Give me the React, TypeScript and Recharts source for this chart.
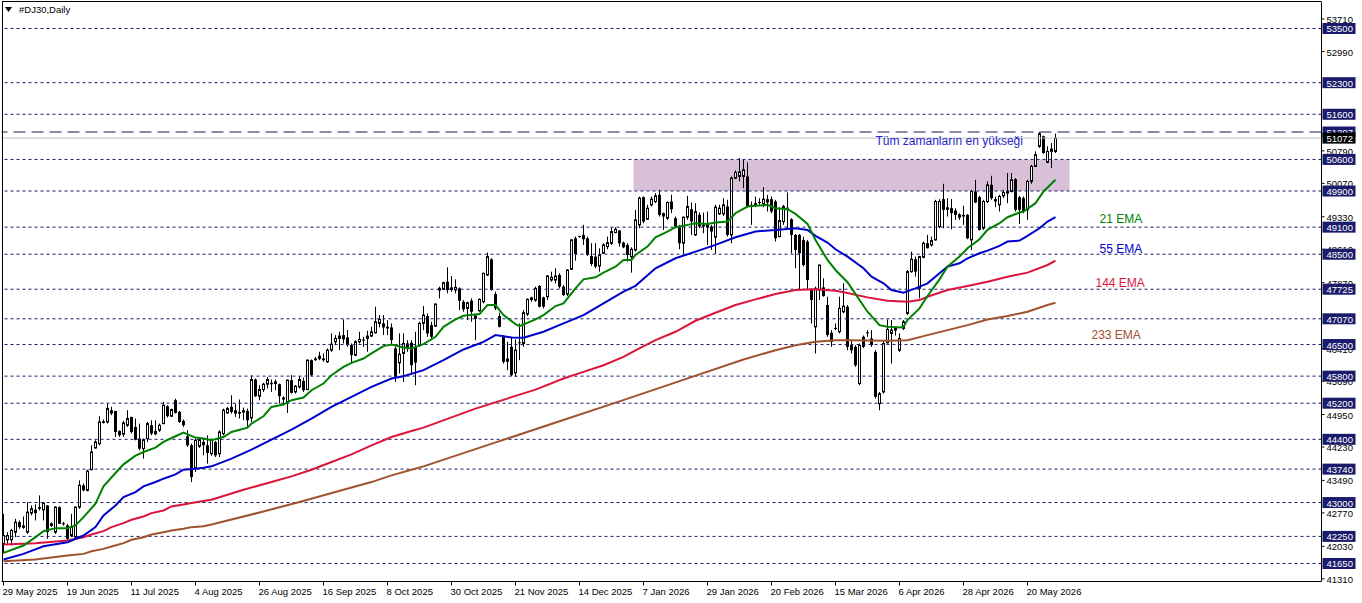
import React from 'react';
import { ComposedChart, Bar, Line, XAxis, YAxis, ReferenceLine, ReferenceArea, ReferenceDot } from 'recharts';

const FONT = 'Liberation Sans, Arial, sans-serif';

const openP = [
42085,42174,42174,42344,42566,42492,42344,42766,42840,42899,42840,42936,42492,42344,42899,42530,42492,42270,42233,42899,
43380,43269,43728,44209,44305,44801,44786,45045,45030,44586,44512,44712,44897,44675,44416,44194,44416,44712,44586,44601,
44749,45134,44912,45267,45008,44808,44468,44268,43772,44246,44342,44268,44083,44341,44082,44526,44985,45118,45044,45007,
45044,45029,44874,45725,45355,45503,45621,45651,45636,45621,45325,45229,45710,45451,45562,45695,45503,46154,46191,46191,
46191,46117,46376,46561,46635,46709,46657,46487,46265,46561,46598,46635,46687,46760,46968,46968,46894,46879,46413,46095,
46302,46524,46539,46450,46487,46968,47130,46930,46908,47707,47722,47892,47766,47707,47744,47448,47300,47470,47078,47248,
47448,48040,48388,47618,47130,46671,46190,46449,45872,46523,46523,47174,47544,47485,47796,47544,47559,47929,47929,48040,
47781,47618,48166,48854,48891,48928,48854,48462,48447,48240,48521,48669,48743,48980,49024,48758,48706,48447,48595,49150,
49764,49276,49594,49668,49816,49409,49298,49668,49298,49098,48743,49320,49498,48928,49372,49150,49098,49113,48876,49394,
49394,49557,48928,50186,50223,50223,50223,49594,49631,49646,49616,49720,49720,49668,48891,49224,49520,49276,48928,48928,
48817,48780,47707,46893,47707,47766,47374,46760,46856,46782,47226,47337,46486,46449,45635,46671,46760,46634,46338,45191,
45450,46538,46745,46819,46375,46856,47189,48114,48388,47744,48432,48743,48706,48817,49113,49720,49542,49520,49468,49320,
49372,49372,48817,49890,49764,49076,49668,50038,49720,49594,49794,49853,49890,50164,49764,49742,49483,50112,50445,50889,
51111,50534,50778,50778];

const highP = [
42750,42344,42418,42640,42603,42692,43010,42936,42958,43158,43010,42940,42560,42914,42914,42570,42529,42751,42914,43491,
43420,43728,44268,44379,44912,44838,45193,45120,45030,44601,44808,45045,44897,44860,44749,44416,44786,44823,44823,44749,
45230,45156,45082,45300,45030,44838,44601,44305,44416,44453,44394,44490,44420,44360,44600,45081,45118,45377,45192,45281,
45103,45081,45821,45747,45599,45651,45784,45725,45725,45636,45355,45725,45821,45599,45799,45769,46169,46169,46228,46339,
46302,46413,46746,46709,46783,47057,46820,46524,46598,46783,46672,46805,46894,47338,47153,47153,47040,46968,46450,46746,
46746,46598,46598,46783,47005,47353,47189,47004,47411,47781,47892,48210,48018,47944,47766,47485,47448,47522,47152,47522,
48092,48536,48410,47670,47204,46708,46560,46671,46612,46967,47263,47522,47559,47781,47818,47559,48040,48114,48188,48077,
47818,48166,48832,48891,48910,49150,48891,48743,48743,48632,48743,48891,49098,49098,49039,48780,48743,48654,49483,49779,
49779,49594,49779,49853,49927,49424,49668,49816,49335,49150,49335,49794,49646,49631,49424,49424,49446,49150,49594,49594,
49742,49705,50223,50356,50630,50593,50534,49668,49779,49742,49986,49816,49779,49705,49542,49594,49868,49298,48950,48950,
48891,48817,47744,47781,48262,47966,47559,46819,46967,47559,47855,47374,46597,46486,46523,46700,46819,46819,46375,45450,
46597,47056,47041,46900,46745,47041,48151,48558,48447,48462,48780,48928,48891,49705,49720,50060,49742,49720,49520,49409,
49572,49387,49927,50149,49794,49705,50112,50238,49779,49816,49927,50297,50297,50186,49794,49779,50149,50482,50778,51207,
51126,50889,50963,51170];

const lowP = [
41870,42085,42048,42233,42418,42418,42307,42714,42603,42825,42603,42196,42460,42307,42529,42490,42174,42233,42196,42862,
43250,43247,43713,44194,44268,44749,44749,44935,44453,44453,44453,44675,44527,44379,44157,43972,44342,44490,44490,44564,
44734,44882,44897,44971,44764,44675,44231,43454,43676,44209,44046,43861,44040,44008,44008,44489,44970,44970,44896,44859,
44822,44674,44785,45340,45266,45451,45525,45451,45488,45192,45155,44985,45414,45414,45525,45451,45488,45799,46139,46154,
46117,46095,46339,46487,46376,46524,46450,46080,46243,46524,46450,46339,46672,46746,46879,46709,46709,46487,45673,45858,
45673,46339,45858,45600,46450,46820,46671,46634,46893,47522,47707,47633,47670,47633,47263,47226,47041,47004,46597,47226,
47411,48018,47692,47263,46878,46079,45931,45798,45783,46153,46449,47130,47448,47448,47322,47300,47485,47892,47855,47744,
47574,47574,48151,48358,48870,48706,48462,48240,48188,48114,48506,48610,48706,48965,48669,48632,48336,48092,48558,49076,
49187,49261,49557,49631,49335,49039,49261,49409,49076,48610,48506,49261,48928,48906,49076,48965,48706,48595,48506,49372,
49350,48891,48743,50164,50112,49964,49542,49150,49542,49572,49542,49446,49409,48780,48876,49150,49039,48521,48188,47722,
48225,47722,46967,46301,47485,47559,46671,46449,46819,46745,47189,46375,46301,46005,45600,46420,46671,46449,45302,45043,
45413,46523,46079,46700,46338,46820,47152,48092,48003,47522,48410,48632,48669,48802,49076,49076,49335,49054,49261,49261,
49150,48832,48595,49631,49024,49039,49631,49705,49542,49446,49742,49631,49868,49446,49172,49409,49261,50060,50430,50852,
50726,50519,50407,50741];

const closeP = [
42270,42270,42381,42566,42455,42440,42788,42862,42766,42862,42988,42344,42529,42899,42529,42510,42196,42455,42899,43380,
43269,43698,44120,44342,44786,44764,45082,44971,44564,44490,44764,44860,44564,44394,44194,44394,44749,44527,44512,44712,
45156,44912,45060,44986,44786,44712,44268,43565,44379,44394,44268,44098,44379,44045,44563,45044,45081,45007,44970,44970,
44992,44822,45725,45355,45503,45621,45725,45621,45673,45355,45281,45710,45429,45577,45725,45488,46154,45821,46154,46243,
46154,46376,46509,46635,46687,46613,46487,46265,46561,46613,46583,46687,46783,47005,47057,46879,46857,46598,45784,46287,
46524,46413,46043,46100,46968,47153,46745,46671,47396,47744,47870,47707,47707,47766,47470,47278,47426,47226,47130,47500,
48077,48447,47707,47300,46893,46116,46116,45820,46375,46538,47204,47500,47485,47744,47337,47337,48018,47988,48018,47781,
47596,48151,48817,48506,48891,48832,48484,48284,48225,48484,48706,48758,49002,49054,48743,48654,48484,48610,49261,49742,
49224,49520,49720,49794,49372,49335,49646,49498,49113,48743,49320,49557,49224,49446,49113,49113,49150,49002,49542,49520,
49594,48928,50186,50312,50327,50371,49557,49557,49572,49631,49720,49646,49446,48854,49246,49557,49498,48928,48595,48521,
48262,47929,47485,47744,48262,47574,46708,46560,46850,47300,47352,46449,46375,46042,46486,46449,46745,46486,45339,45413,
46523,46834,46819,46856,46634,47004,48114,48388,48114,48447,48743,48632,48802,49668,49668,49483,49483,49409,49372,49372,
49335,48854,49890,49646,49039,49668,50038,49742,49668,49779,49868,49890,50149,49483,49483,49446,50112,50445,50704,51170,
50741,50778,50830,51072];

const ema21Pts: [number, number][] = [[0,41885],[5,42048],[8,42233],[10,42366],[13,42433],[16,42433],[18,42492],[20,42677],[23,42973],[25,43358],[28,43654],[30,43846],[33,44039],[35,44120],[38,44216],[40,44342],[43,44468],[45,44549],[48,44438],[50,44416],[52,44379],[55,44452],[57,44563],[61,44659],[62,44748],[65,44911],[67,45118],[70,45170],[72,45266],[75,45325],[77,45488],[80,45636],[82,45821],[85,46006],[87,46095],[90,46191],[92,46302],[95,46465],[97,46502],[100,46435],[102,46413],[105,46509],[108,46671],[110,46893],[113,47056],[115,47137],[119,47174],[121,47374],[123,47374],[125,47152],[128,46952],[129,46908],[133,47056],[135,47152],[138,47352],[140,47411],[143,47744],[145,47944],[148,47988],[150,48092],[153,48225],[155,48373],[157,48373],[158,48484],[161,48669],[163,48876],[166,49002],[168,49098],[171,49150],[173,49187],[176,49172],[178,49202],[181,49224],[183,49409],[186,49557],[188,49572],[191,49594],[193,49520],[196,49498],[198,49394],[201,49172],[203,48817],[206,48373],[208,48151],[211,47880],[214,47485],[216,47226],[219,46930],[221,46893],[224,46878],[225,46893],[226,47041],[229,47300],[231,47574],[234,47944],[236,48225],[239,48447],[241,48632],[244,48832],[246,49039],[249,49187],[251,49320],[254,49424],[255,49446],[258,49631],[260,49890],[263,50149]];

const ema55Pts: [number, number][] = [[0,41737],[5,41863],[10,42033],[16,42122],[20,42270],[23,42455],[25,42714],[28,42936],[30,43121],[33,43232],[35,43358],[38,43454],[40,43528],[43,43624],[45,43728],[48,43750],[50,43772],[52,43802],[57,43971],[62,44171],[67,44393],[72,44615],[77,44859],[82,45118],[87,45340],[92,45562],[97,45747],[100,45799],[105,45932],[110,46153],[115,46390],[120,46560],[123,46708],[127,46656],[130,46649],[135,46782],[140,46967],[145,47152],[150,47411],[155,47670],[158,47800],[163,48188],[168,48410],[173,48558],[178,48706],[183,48876],[188,49002],[193,49039],[198,49076],[201,49039],[203,48906],[206,48758],[208,48610],[211,48447],[215,48188],[217,48003],[220,47855],[222,47707],[225,47648],[228,47744],[231,47855],[234,48077],[236,48225],[239,48299],[241,48410],[244,48521],[246,48580],[249,48684],[251,48780],[254,48802],[256,48906],[259,49076],[261,49224],[263,49320]];

const ema144Pts: [number, number][] = [[0,42070],[8,42100],[16,42159],[20,42233],[22,42292],[25,42366],[27,42455],[30,42544],[32,42618],[35,42692],[37,42766],[40,42825],[42,42914],[45,42958],[47,42988],[50,43032],[52,43062],[60,43283],[67,43453],[72,43579],[77,43727],[82,43897],[87,44067],[92,44267],[97,44452],[102,44585],[105,44659],[118,45080],[133,45502],[140,45746],[145,45894],[150,46042],[155,46227],[158,46370],[163,46597],[168,46782],[173,47026],[178,47204],[183,47374],[188,47500],[193,47618],[198,47707],[203,47722],[208,47692],[211,47640],[216,47544],[221,47470],[226,47448],[229,47485],[231,47559],[236,47707],[241,47796],[246,47892],[251,48003],[256,48092],[261,48262],[263,48358]];

const ema233Pts: [number, number][] = [[0,41700],[8,41737],[16,41826],[20,41863],[22,41922],[25,41974],[27,42026],[30,42100],[32,42174],[35,42233],[37,42292],[40,42344],[42,42381],[45,42418],[47,42455],[50,42477],[52,42514],[64,42780],[74,43010],[85,43283],[92,43453],[97,43601],[102,43727],[105,43801],[124,44360],[139,44800],[154,45240],[169,45690],[185,46168],[193,46375],[198,46486],[203,46560],[208,46597],[211,46597],[221,46582],[226,46597],[231,46708],[236,46819],[241,46930],[246,47056],[251,47130],[256,47226],[261,47374],[263,47426]];

const dateTickIndex = [0,16,32,48,64,80,96,112,128,144,160,176,192,208,224,240,256];
const dateTickLabels = ['29 May 2025','19 Jun 2025','11 Jul 2025','4 Aug 2025','26 Aug 2025','16 Sep 2025','8 Oct 2025','30 Oct 2025','21 Nov 2025','14 Dec 2025','7 Jan 2026','29 Jan 2026','20 Feb 2026','15 Mar 2026','6 Apr 2026','28 Apr 2026','20 May 2026'];

const levelLines = [53500,52300,51600,50600,49900,49100,48500,47725,47070,46500,45800,45200,44400,43740,43000,42250,41650];
const athLevel = 51207;
const lastPrice = 51072;
const scaleTicks = [53710,52990,52270,51550,50790,50070,49330,48610,47870,47150,46410,45690,44950,44230,43490,42770,42030,41310];
const zoneLow = 49900;
const zoneHigh = 50600;
const zoneFrom = 158;
const zoneTo = 266;

const TOTAL_SLOTS = 330;
const Y_DOMAIN: [number, number] = [41251, 54098];

const C_LEVEL = '#1b1b6b';
const C_GREEN = '#008000';
const C_BLUE = '#0000cd';
const C_RED = '#dc143c';
const C_BROWN = '#a0522d';

const m21 = new Map(ema21Pts);
const m55 = new Map(ema55Pts);
const m144 = new Map(ema144Pts);
const m233 = new Map(ema233Pts);

const data = Array.from({ length: TOTAL_SLOTS }, (_, i) => {
  const row: any = { i };
  if (i < openP.length) {
    row.o = openP[i];
    row.h = highP[i];
    row.l = lowP[i];
    row.c = closeP[i];
    row.range = [lowP[i], highP[i]];
  }
  row.ema21 = m21.has(i) ? m21.get(i) : null;
  row.ema55 = m55.has(i) ? m55.get(i) : null;
  row.ema144 = m144.has(i) ? m144.get(i) : null;
  row.ema233 = m233.has(i) ? m233.get(i) : null;
  return row;
});

const Candle = (props: any) => {
  const { x, width, y, height, payload } = props;
  if (!payload || payload.o == null || x == null) return null;
  const { o, h, l, c } = payload;
  const yTop = Math.min(y, y + height);
  const hh = Math.abs(height);
  const cx = Math.floor(x + width / 2) + 0.5;
  const span = h - l;
  const py = (v: number) => (span > 0 ? yTop + ((h - v) / span) * hh : yTop);
  const top = py(Math.max(o, c));
  const bot = py(Math.min(o, c));
  const bull = c >= o;
  return (
    <g>
      <line x1={cx} x2={cx} y1={yTop} y2={yTop + hh} stroke="#000" strokeWidth={1} />
      {bot - top < 1.2 ? (
        <line x1={cx - 1.5} x2={cx + 1.5} y1={top} y2={top} stroke="#000" strokeWidth={1} />
      ) : bull ? (
        <rect x={cx - 1} y={top} width={2} height={bot - top} fill="#fff" stroke="#000" strokeWidth={1} />
      ) : (
        <rect x={cx - 1.5} y={top} width={3} height={bot - top} fill="#000" />
      )}
    </g>
  );
};

const hiddenNear = (v: number) =>
  [...levelLines, athLevel, lastPrice].some((hv) => Math.abs(hv - v) < 85);

const PriceTick = (props: any) => {
  const { x, y, payload } = props;
  const v = payload.value;
  const isLast = v === lastPrice;
  const isHl = levelLines.includes(v) || v === athLevel;
  if (isLast || isHl) {
    return (
      <g>
        <rect x={x + 1} y={y - 5.5} width={33} height={11} fill={isLast ? '#000' : C_LEVEL} />
        <text x={x + 5} y={y + 0.5} dominantBaseline="central" fill="#fff" fontSize={9.5} fontFamily={FONT}>{v}</text>
      </g>
    );
  }
  if (hiddenNear(v)) return null;
  return (
    <g>
      <line x1={x} x2={x + 3} y1={y} y2={y} stroke="#000" strokeWidth={1} />
      <text x={x + 5} y={y + 0.5} dominantBaseline="central" fill="#000" fontSize={9.5} fontFamily={FONT}>{v}</text>
    </g>
  );
};

const DateTick = (props: any) => {
  const { x, y, payload } = props;
  const k = dateTickIndex.indexOf(payload.value);
  if (k < 0) return null;
  return (
    <g>
      <line x1={x} x2={x} y1={y} y2={y + 4} stroke="#000" strokeWidth={1} />
      <text x={x - 1} y={y + 10} dominantBaseline="central" fill="#000" fontSize={9.5} fontFamily={FONT}>{dateTickLabels[k]}</text>
    </g>
  );
};

const noteLabel = (txt: string, color: string) => (p: any) => (
  <text x={p.viewBox.x} y={p.viewBox.y} dominantBaseline="central" fill={color} fontSize={12} fontFamily={FONT}>{txt}</text>
);

const yTicks = [...scaleTicks, ...levelLines, athLevel, lastPrice];

export default function App() {
  return (
    <div style={{ position: 'absolute', left: 0, top: 0, width: 1362, height: 603, background: '#fff', overflow: 'hidden' }}>
      <ComposedChart
        width={1362}
        height={603}
        data={data}
        margin={{ top: 1.5, right: 0, bottom: 0, left: 1.5 }}
        barCategoryGap={0}
        barGap={0}
      >
        <XAxis
          dataKey="i"
          type="category"
          ticks={dateTickIndex}
          interval={0}
          tick={<DateTick />}
          tickLine={false}
          tickSize={0}
          tickMargin={0}
          height={21.5}
          axisLine={{ stroke: '#000', strokeWidth: 1 }}
        />
        <YAxis
          orientation="right"
          type="number"
          domain={Y_DOMAIN}
          allowDataOverflow
          ticks={yTicks}
          interval={0}
          tick={<PriceTick />}
          tickLine={false}
          tickSize={0}
          tickMargin={0}
          width={40.5}
          axisLine={{ stroke: '#000', strokeWidth: 1 }}
        />
        <ReferenceArea x1={zoneFrom} x2={zoneTo} y1={zoneLow} y2={zoneHigh} fill="#d8c0d8" fillOpacity={1} stroke="none" />
        {levelLines.map((v) => (
          <ReferenceLine key={v} y={v} stroke={C_LEVEL} strokeWidth={1} strokeDasharray="3 3" />
        ))}
        <ReferenceLine y={athLevel} stroke="#1a1a40" strokeWidth={1} strokeDasharray="12 6" />
        <ReferenceLine y={lastPrice} stroke="#c0c0c0" strokeWidth={1} />
        <Bar dataKey="range" shape={<Candle />} isAnimationActive={false} />
        <Line dataKey="ema233" stroke={C_BROWN} strokeWidth={2} dot={false} connectNulls isAnimationActive={false} />
        <Line dataKey="ema144" stroke={C_RED} strokeWidth={2} dot={false} connectNulls isAnimationActive={false} />
        <Line dataKey="ema55" stroke={C_BLUE} strokeWidth={2} dot={false} connectNulls isAnimationActive={false} />
        <Line dataKey="ema21" stroke={C_GREEN} strokeWidth={2} dot={false} connectNulls isAnimationActive={false} />
        <ReferenceDot x={218} y={51008} r={0} fill="none" stroke="none" label={noteLabel('Tüm zamanların en yükseği', '#2525c8')} />
        <ReferenceDot x={274} y={49291} r={0} fill="none" stroke="none" label={noteLabel('21 EMA', C_GREEN)} />
        <ReferenceDot x={274} y={48605} r={0} fill="none" stroke="none" label={noteLabel('55 EMA', C_BLUE)} />
        <ReferenceDot x={273} y={47852} r={0} fill="none" stroke="none" label={noteLabel('144 EMA', C_RED)} />
        <ReferenceDot x={272} y={46700} r={0} fill="none" stroke="none" label={noteLabel('233 EMA', C_BROWN)} />
      </ComposedChart>
      <div style={{ position: 'absolute', left: 2, top: 1, width: 1319, height: 580, borderTop: '1px solid #000', borderLeft: '1px solid #000', boxSizing: 'border-box', pointerEvents: 'none' }} />
      <div style={{ position: 'absolute', left: 5, top: 4, display: 'flex', alignItems: 'center', fontFamily: FONT, fontSize: 9.5, color: '#000' }}>
        <svg width={8} height={6} style={{ marginRight: 6 }}>
          <polygon points="0,0 7,0 3.5,5" fill="#000" />
        </svg>
        <span>#DJ30,Daily</span>
      </div>
    </div>
  );
}
